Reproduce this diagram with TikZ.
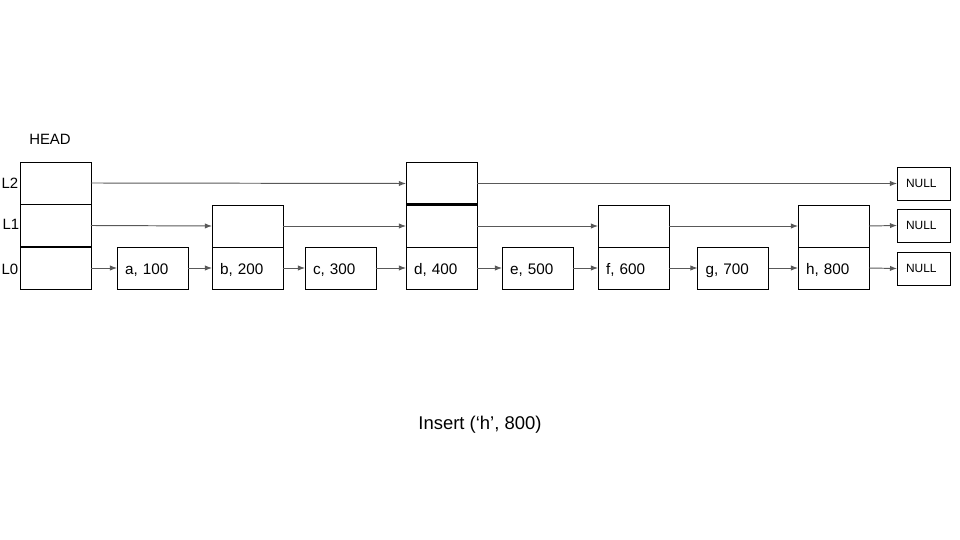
\documentclass[tikz,border=0pt]{standalone}
\usepackage{fontspec}
\setmainfont{Liberation Sans}
\usetikzlibrary{arrows.meta}
\tikzset{
	cell/.style={draw=black, line width=0.55pt, minimum width=1.42cm, minimum height=0.84cm, inner sep=0pt, outer sep=0pt},
	keycell/.style={cell, text width=1.1cm, inner xsep=0.16cm, align=left, text height=8.2pt, text depth=0.3pt, font=\fontsize{8.7}{10}\selectfont},
	nullcell/.style={draw=black, line width=0.55pt, minimum width=1.06cm, minimum height=0.66cm, inner sep=0pt, outer sep=0pt, text width=0.7cm, inner xsep=0.18cm, align=left, font=\fontsize{6.8}{8}\selectfont},
	link/.style={draw=black!65, line width=0.55pt, -{Latex[length=4pt,width=3pt]}},
	lvl/.style={font=\fontsize{8.5}{10}\selectfont}
}
\begin{document}
\begin{tikzpicture}[x=0.02cm, y=-0.02cm]
		\useasboundingbox (0,0) rectangle (960,540);
		\node[lvl] (headlbl) at (50,139) {HEAD};
		\node[lvl] (lbl2) at (10,183) {L2};
		\node[lvl] (lbl1) at (11,224) {L1};
		\node[lvl] (lbl0) at (10,269) {L0};
		\node[cell] (head2) at (55.5,183) {};
		\node[cell] (head1) at (55.5,225.5) {};
		\node[cell] (head0) at (55.5,268) {};
		\node[keycell] (a0) at (152.5,268) {a, 100};
		\node[keycell] (b0) at (247.5,268) {b, 200};
		\node[keycell] (c0) at (340.5,268) {c, 300};
		\node[keycell] (d0) at (441.5,268) {d, 400};
		\node[keycell] (e0) at (537.5,268) {e, 500};
		\node[keycell] (f0) at (633.5,268) {f, 600};
		\node[keycell] (g0) at (733,268) {g, 700};
		\node[keycell] (h0) at (833.5,268) {h, 800};
		\node[cell] (b1) at (247.5,226) {};
		\node[cell] (d1) at (441.5,226) {};
		\node[cell] (f1) at (633.5,226) {};
		\node[cell] (h1) at (833.5,226) {};
		\node[cell] (d2) at (441.5,183.5) {};
		\node[nullcell] (null2) at (923.5,183.5) {NULL};
		\node[nullcell] (null1) at (923.5,225.5) {NULL};
		\node[nullcell] (null0) at (923.5,268.5) {NULL};
		\draw[line width=1.4pt] (head0.north west) -- (head0.north east);
		\draw[line width=1.4pt] (d2.south west) -- (d2.south east);
		\draw[link] (head2.east) -- (d2.west);
		\draw[link] (d2.east) -- (null2.west);
		\draw[link] (head1.east) -- (b1.west);
		\draw[link] (b1.east) -- (d1.west);
		\draw[link] (d1.east) -- (f1.west);
		\draw[link] (f1.east) -- (h1.west);
		\draw[link] (h1.east) -- (null1.west);
		\draw[link] (head0.east) -- (a0.west);
		\draw[link] (a0.east) -- (b0.west);
		\draw[link] (b0.east) -- (c0.west);
		\draw[link] (c0.east) -- (d0.west);
		\draw[link] (d0.east) -- (e0.west);
		\draw[link] (e0.east) -- (f0.west);
		\draw[link] (f0.east) -- (g0.west);
		\draw[link] (g0.east) -- (h0.west);
		\draw[link] (h0.east) -- (null0.west);
		\node[font=\fontsize{10.5}{12}\selectfont] (caption) at (480,425) {Insert (‘h’, 800)};
\end{tikzpicture}
\end{document}
